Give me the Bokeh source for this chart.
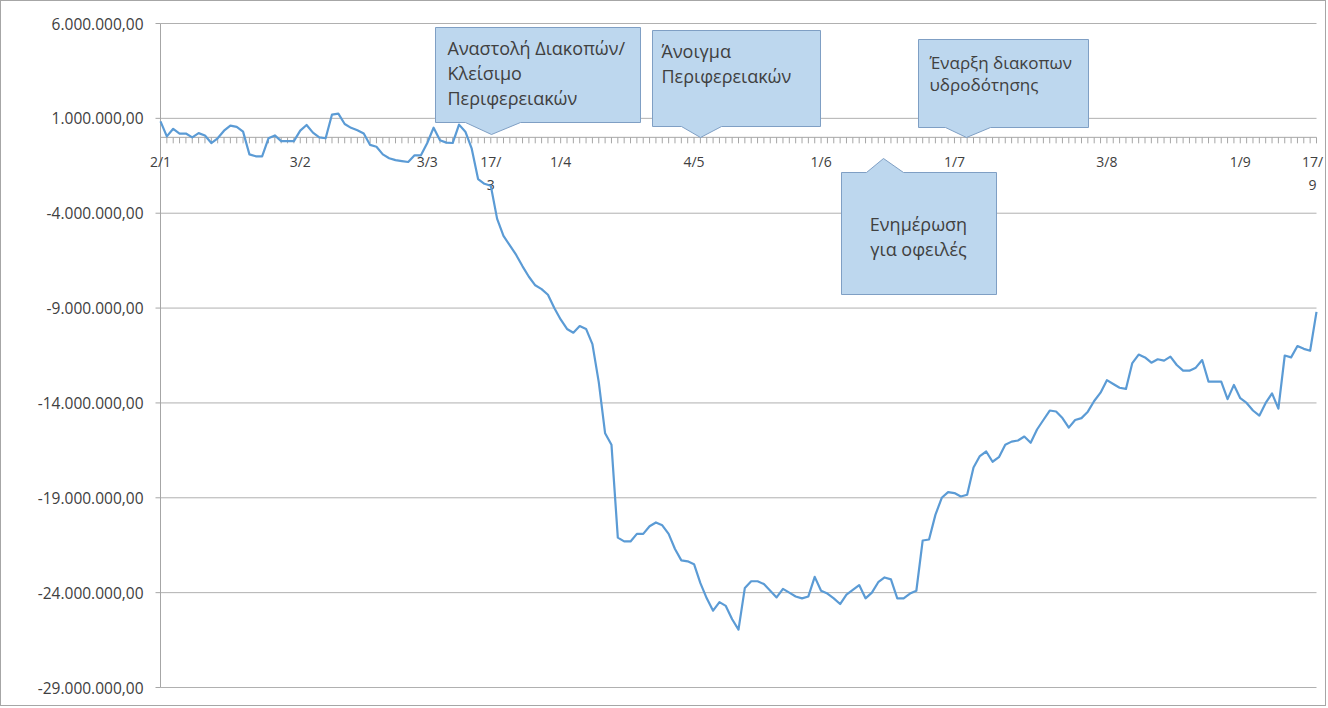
from bokeh.plotting import figure
from bokeh.models import Range1d, ColumnDataSource
from bokeh.core.properties import value
from bokeh.embed import file_html
from bokeh.resources import INLINE

# ---- data (millions of euros, one value per business day, 2/1 .. 17/9) ----
values = [
    0.84, 0.05, 0.45, 0.2, 0.2, 0.0, 0.22, 0.1, -0.3, -0.05,
    0.35, 0.62, 0.55, 0.3, -0.9, -1.0, -1.0, -0.05, 0.1, -0.2,
    -0.2, -0.2, 0.35, 0.65, 0.25, 0.0, -0.05, 1.2, 1.25, 0.7,
    0.5, 0.37, 0.2, -0.4, -0.5, -0.9, -1.1, -1.2, -1.25, -1.3,
    -0.95, -0.95, -0.3, 0.51, -0.15, -0.28, -0.3, 0.67, 0.3, -0.6,
    -2.2, -2.45, -2.55, -4.3, -5.2, -5.7, -6.2, -6.8, -7.35, -7.8,
    -8.0, -8.3, -9.0, -9.6, -10.1, -10.3, -9.95, -10.1, -10.9, -12.9,
    -15.6, -16.2, -21.1, -21.3, -21.3, -20.9, -20.9, -20.5, -20.3, -20.45,
    -20.9, -21.7, -22.3, -22.35, -22.5, -23.5, -24.3, -24.95, -24.5, -24.7,
    -25.4, -25.95, -23.75, -23.4, -23.4, -23.55, -23.9, -24.25, -23.8, -24.0,
    -24.2, -24.3, -24.2, -23.17, -23.9, -24.05, -24.3, -24.6, -24.1, -23.85,
    -23.6, -24.3, -24.0, -23.45, -23.2, -23.3, -24.3, -24.3, -24.05, -23.9,
    -21.25, -21.2, -19.9, -19.0, -18.7, -18.75, -18.93, -18.84, -17.4, -16.8,
    -16.56, -17.1, -16.86, -16.2, -16.04, -15.98, -15.77, -16.1, -15.4, -14.9,
    -14.4, -14.45, -14.8, -15.3, -14.9, -14.8, -14.46, -13.9, -13.46, -12.8,
    -13.0, -13.2, -13.26, -11.9, -11.45, -11.6, -11.88, -11.7, -11.77, -11.56,
    -12.0, -12.3, -12.3, -12.14, -11.74, -12.88, -12.88, -12.88, -13.8, -13.05,
    -13.75, -14.0, -14.4, -14.67, -14.0, -13.5, -14.3, -11.5, -11.6, -11.0,
    -11.15, -11.25, -9.2,
]
day_index = list(range(len(values)))

x_tick_idx = [0, 22, 42, 52, 63, 84, 104, 125, 149, 170, 182]
x_tick_labels = ["2/1", "3/2", "3/3", "17/\n3", "1/4", "4/5", "1/6", "1/7",
                 "3/8", "1/9", "17/\n9"]

y_ticks = [-29, -24, -19, -14, -9, -4, 1, 6]
y_tick_labels = ["-29.000.000,00", "-24.000.000,00", "-19.000.000,00",
                 "-14.000.000,00", "-9.000.000,00", "-4.000.000,00",
                 "1.000.000,00", "6.000.000,00"]

callout_texts = [
    ["Αναστολή Διακοπών/", "Κλείσιμο", "Περιφερειακών"],
    ["Άνοιγμα", "Περιφερειακών"],
    ["Έναρξη διακοπων", "υδροδότησης"],
    ["Ενημέρωση", "για οφειλές"],
]

# ---- layout / style (pixel geometry of the picture) ----
X0, X1, Y_TOP, Y_BOT = 160, 1316, 23, 687
XMAX = len(values) - 1
YMIN, YMAX = -29, 6
AX = "#a6a6a6"
TXT = "#404040"
# small nudge so the last category label stays inside the canvas
x_label_offsets = [0] * (len(x_tick_idx) - 1) + [-4]


def dx(px):
    return (px - X0) * XMAX / (X1 - X0)


def dy(py):
    return YMAX - (py - Y_TOP) * (YMAX - YMIN) / (Y_BOT - Y_TOP)


# box: (left, top, right, bottom), pointer: side, base1, base2, tip(x, y)
callout_geom = [
    dict(box=(435, 27, 640, 122), side="bottom", b=(465, 520), tip=(491, 134),
         tx=447, ty=47, dy_line=25, size="18px", align="left"),
    dict(box=(652, 30, 820, 126), side="bottom", b=(681, 721), tip=(700, 137),
         tx=661, ty=50, dy_line=25, size="18px", align="left"),
    dict(box=(918, 39, 1088, 127), side="bottom", b=(945, 990), tip=(966, 137),
         tx=929, ty=62, dy_line=22, size="17px", align="left"),
    dict(box=(841, 172, 996, 294), side="top", b=(866, 903), tip=(883, 158),
         tx=918, ty=223, dy_line=25, size="18px", align="center"),
]

W, H = 1326, 706
# the frame fills the whole canvas (canvas starts 1px in, after the border)
p = figure(width=W, height=H, output_backend="svg", toolbar_location=None,
           x_range=Range1d(dx(1), dx(1 + W)),
           y_range=Range1d(dy(1 + H), dy(1)),
           x_axis_location=None, y_axis_location=None,
           min_border_left=0, min_border_right=0,
           min_border_top=0, min_border_bottom=0)
p.styles = {"border": "1px solid #a6a6a6"}
p.outline_line_color = None
p.background_fill_color = "white"
p.border_fill_color = "white"
for g in p.grid:
    g.visible = False

n_y = len(y_ticks)
# horizontal gridlines
p.segment(x0=[0] * n_y, y0=y_ticks, x1=[XMAX] * n_y, y1=y_ticks,
          line_color="#b0b0b0", line_width=1)
# vertical value axis with outward ticks and labels
p.segment(x0=[0], y0=[YMIN], x1=[0], y1=[YMAX], line_color=AX, line_width=1)
p.segment(x0=[dx(X0 - 5)] * n_y, y0=y_ticks, x1=[0] * n_y, y1=y_ticks,
          line_color=AX, line_width=1)
p.text(x=[0] * n_y, y=y_ticks, text=y_tick_labels, x_offset=-17,
       text_align="right", text_baseline="middle",
       text_font=value("Open Sans"), text_font_size="15.5px", text_color=TXT)

# horizontal category axis crossing at zero
p.segment(x0=[0], y0=[0], x1=[XMAX], y1=[0], line_color=AX, line_width=1)
tick_len = 6 * (YMAX - YMIN) / (Y_BOT - Y_TOP)
p.segment(x0=day_index, y0=[0] * len(day_index), x1=day_index,
          y1=[-tick_len] * len(day_index), line_color=AX, line_width=1)
xlab = ColumnDataSource(dict(x=x_tick_idx, y=[0] * len(x_tick_idx),
                             text=x_tick_labels, xo=x_label_offsets))
p.text(x="x", y="y", text="text", x_offset="xo", source=xlab,
       text_align="center", text_baseline="top", y_offset=15,
       text_font=value("Open Sans"), text_font_size="14px",
       text_color=TXT, text_line_height=1.2)

# data line
p.line(day_index, values, line_color="#5b9bd5", line_width=2.2,
       line_join="round")

# callouts
xs, ys = [], []
for g in callout_geom:
    L, T, R, B = g["box"]
    b1, b2 = g["b"]
    tx_, ty_ = g["tip"]
    if g["side"] == "bottom":
        pts = [(L, T), (R, T), (R, B), (b2, B), (tx_, ty_), (b1, B), (L, B)]
    else:
        pts = [(L, T), (b1, T), (tx_, ty_), (b2, T), (R, T), (R, B), (L, B)]
    xs.append([dx(a) for a, _ in pts])
    ys.append([dy(b) for _, b in pts])
p.patches(xs, ys, fill_color="#bdd7ee", line_color="#7f9fc4", line_width=1)

for g, lines in zip(callout_geom, callout_texts):
    n = len(lines)
    p.text(x=[dx(g["tx"])] * n,
           y=[dy(g["ty"] + i * g["dy_line"]) for i in range(n)],
           text=lines, text_align=g["align"], text_baseline="middle",
           text_font=value("Open Sans"), text_font_size=g["size"],
           text_color=TXT)

open("out.html", "w").write(file_html(p, INLINE))
